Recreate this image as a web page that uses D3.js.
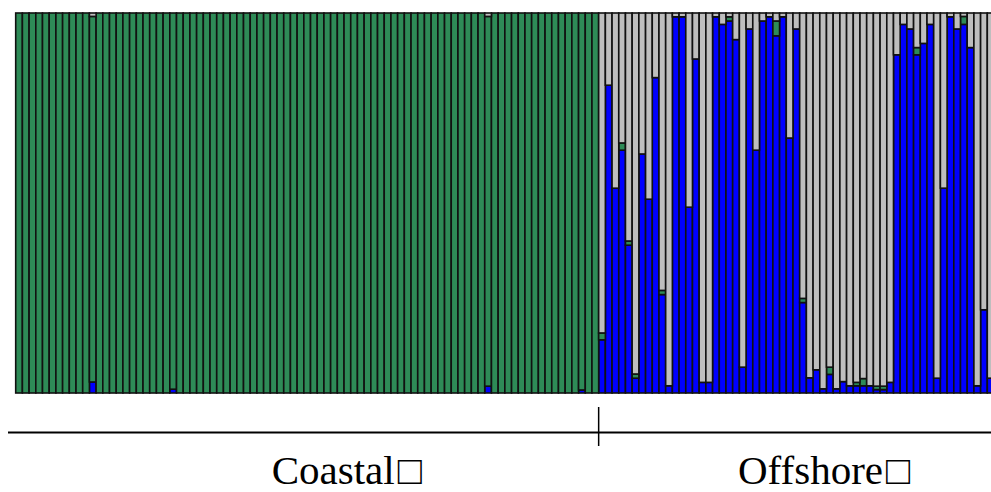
<!DOCTYPE html>
<meta charset="utf-8">
<style>
body { margin: 0; background: white; }
svg { display: block; }
.bars rect { stroke: #111; stroke-width: 1.6px; }
.label { font-family: "Liberation Serif", "Times New Roman", serif; font-size: 41px; fill: #000; }
.box { font-family: "DejaVu Sans ExtraLight", "DejaVu Sans"; font-weight: 200; font-size: 40px; }
</style>
<svg width="991" height="492"></svg>
<script src="https://cdn.jsdelivr.net/npm/d3@7"></script>
<script>
// populations and number of individuals
var populations = ["Coastal", "Offshore"];
var popSizes = [87, 59];
var clusters = ["blue", "green", "gray"];  // stacking order, bottom to top

// coastal individuals: proportion of each cluster (mostly pure green)
var coastalBlue = [0,0,0,0,0,0,0,0,0,0,0,0.029,0,0,0,0,0,0,0,0,0,0,0,0.01,0,0,0,0,0,0,
  0,0,0,0,0,0,0,0,0,0,0,0,0,0,0,0,0,0,0,0,0,0,0,0,0,0,0,0,0,0,
  0,0,0,0,0,0,0,0,0,0,0.018,0,0,0,0,0,0,0,0,0,0,0,0,0,0.008,0,0];
var coastalGray = [0,0,0,0,0,0,0,0,0,0,0,0.009,0,0,0,0,0,0,0,0,0,0,0,0,0,0,0,0,0,0,
  0,0,0,0,0,0,0,0,0,0,0,0,0,0,0,0,0,0,0,0,0,0,0,0,0,0,0,0,0,0,
  0,0,0,0,0,0,0,0,0,0,0.009,0,0,0,0,0,0,0,0,0,0,0,0,0,0,0,0];
var coastalGreen = [1,1,1,1,1,1,1,1,1,1,1,0.962,1,1,1,1,1,1,1,1,1,1,1,0.99,1,1,1,1,1,1,
  1,1,1,1,1,1,1,1,1,1,1,1,1,1,1,1,1,1,1,1,1,1,1,1,1,1,1,1,1,1,
  1,1,1,1,1,1,1,1,1,1,0.973,1,1,1,1,1,1,1,1,1,1,1,1,1,0.992,1,1];

// offshore individuals
var offshoreBlue = [0.14,0.81,0.539,0.639,0.389,0.039,0.629,0.51,0.83,0.259,
  0.019,0.99,0.99,0.489,0.879,0.028,0.028,0.99,0.97,0.979,
  0.93,0.068,0.958,0.639,0.979,0.99,0.94,0.99,0.671,0.958,
  0.238,0.04,0.061,0.011,0.049,0.011,0.03,0.019,0.019,0.019,
  0.019,0.009,0.009,0.028,0.89,0.97,0.958,0.89,0.92,0.97,
  0.039,0.539,0.99,0.958,0.97,0.909,0.019,0.219,0.039];
var offshoreGreen = [0.018,0,0,0.019,0.011,0.011,0,0,0,0.011,
  0,0,0,0,0,0,0,0,0,0.011,
  0,0,0,0,0,0,0.039,0,0,0,
  0.011,0,0,0,0.019,0,0,0,0.009,0.019,
  0,0.009,0.009,0,0,0,0,0.019,0,0,
  0,0,0,0,0.021,0,0,0,0];
var offshoreGray = [0.842,0.19,0.461,0.342,0.6,0.95,0.371,0.49,0.17,0.73,
  0.981,0.01,0.01,0.511,0.121,0.972,0.972,0.01,0.03,0.01,
  0.07,0.932,0.042,0.361,0.021,0.01,0.021,0.01,0.329,0.042,
  0.751,0.96,0.939,0.989,0.932,0.989,0.97,0.981,0.972,0.962,
  0.981,0.982,0.982,0.972,0.11,0.03,0.042,0.091,0.08,0.03,
  0.961,0.461,0.01,0.042,0.009,0.091,0.981,0.781,0.961];

var colors = {blue: "#0000ff", green: "#2e8b57", gray: "#bebebe"};

var svg = d3.select("svg");

// build one row per individual
var rows = [];
coastalBlue.forEach(function(v, i) {
  rows.push({pop: "Coastal", blue: v, green: coastalGreen[i], gray: coastalGray[i]});
});
offshoreBlue.forEach(function(v, i) {
  rows.push({pop: "Offshore", blue: v, green: offshoreGreen[i], gray: offshoreGray[i]});
});
rows.forEach(function(d, i) { d.id = i; });

var x = d3.scaleBand()
    .domain(rows.map(function(d) { return d.id; }))
    .range([15.7, 994])
    .padding(0);
var y = d3.scaleLinear().domain([0, 1]).range([393, 13]);

var stack = d3.stack().keys(clusters)
    .offset(d3.stackOffsetExpand);
var series = stack(rows);

svg.append("g")
    .attr("class", "bars")
  .selectAll("g")
  .data(series)
  .enter().append("g")
    .attr("fill", function(s) { return colors[s.key]; })
  .selectAll("rect")
  .data(function(s) { return s.filter(function(d) { return d[1] - d[0] > 0; }); })
  .enter().append("rect")
    .attr("x", function(d) { return x(d.data.id); })
    .attr("width", x.bandwidth())
    .attr("y", function(d) { return y(d[1]); })
    .attr("height", function(d) { return y(d[0]) - y(d[1]); });

// population bracket below the plot
var split = x(popSizes[0]);
svg.append("line")
    .attr("x1", 8).attr("x2", 991)
    .attr("y1", 432.5).attr("y2", 432.5)
    .attr("stroke", "#000").attr("stroke-width", 2);
svg.append("line")
    .attr("x1", split).attr("x2", split)
    .attr("y1", 407).attr("y2", 446)
    .attr("stroke", "#000").attr("stroke-width", 1.5);

var labelX = [271.7, 738];
populations.forEach(function(p, i) {
  var t = svg.append("text")
      .attr("class", "label")
      .attr("x", labelX[i])
      .attr("y", 483.5)
      .text(p);
  t.append("tspan")
      .attr("class", "box")
      .attr("dx", 3)
      .text("\u25A1");
});
</script>
